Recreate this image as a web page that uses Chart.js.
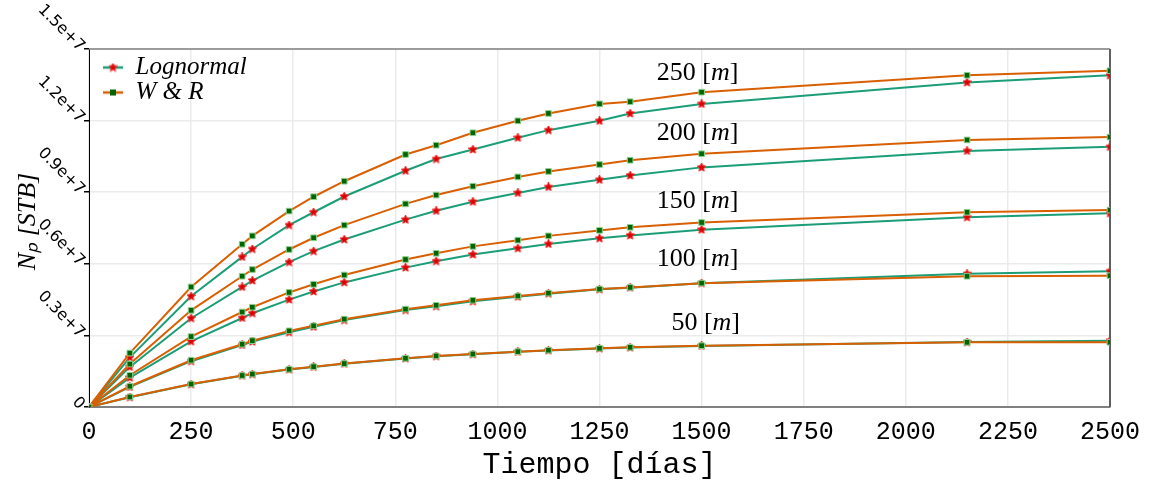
<!DOCTYPE html>
<html><head><meta charset="utf-8">
<script src="https://cdn.jsdelivr.net/npm/chart.js@4"></script>
<style>html,body{margin:0;padding:0;background:#fff}</style>
</head><body>
<canvas id="c" width="1151" height="483"></canvas>
<script>
// Time axis (days)
const days = [0,100,250,375,400,490,550,625,775,850,940,1050,1125,1250,1325,1500,2150,2500];

// Cumulative production Np, in millions of STB
const lognormal50  = [0,0.41,0.95,1.31,1.37,1.57,1.68,1.81,2.03,2.13,2.21,2.31,2.37,2.45,2.49,2.56,2.72,2.78];
const wr50         = [0,0.42,0.96,1.32,1.38,1.58,1.69,1.82,2.04,2.14,2.22,2.32,2.38,2.46,2.50,2.57,2.71,2.71];
const lognormal100 = [0,0.84,1.92,2.60,2.74,3.13,3.36,3.64,4.06,4.22,4.43,4.62,4.75,4.93,5.00,5.19,5.58,5.69];
const wr100        = [0,0.87,1.96,2.63,2.78,3.19,3.40,3.68,4.10,4.26,4.47,4.65,4.77,4.94,5.01,5.19,5.48,5.50];
const lognormal150 = [0,1.23,2.75,3.73,3.93,4.50,4.84,5.22,5.84,6.11,6.39,6.65,6.83,7.07,7.19,7.43,7.95,8.12];
const wr150        = [0,1.33,2.95,3.98,4.18,4.80,5.14,5.53,6.18,6.44,6.73,6.99,7.17,7.40,7.53,7.73,8.16,8.25];
const lognormal200 = [0,1.68,3.72,5.03,5.30,6.07,6.53,7.02,7.85,8.22,8.60,8.97,9.22,9.52,9.70,10.04,10.73,10.90];
const wr200        = [0,1.80,4.05,5.48,5.76,6.60,7.09,7.62,8.51,8.88,9.25,9.64,9.87,10.16,10.34,10.61,11.19,11.31];
const lognormal250 = [0,2.08,4.64,6.29,6.62,7.62,8.16,8.82,9.90,10.39,10.79,11.28,11.60,11.99,12.30,12.70,13.60,13.90];
const wr250        = [0,2.26,5.03,6.82,7.17,8.21,8.81,9.46,10.58,10.97,11.49,11.99,12.30,12.70,12.79,13.19,13.90,14.09];

const seriesNames = ['Lognormal', 'W & R'];
const yTickLabels = ['0','0.3e+7','0.6e+7','0.9e+7','1.2e+7','1.5e+7'];
const curveLabels = ['50','100','150','200','250'];
const curveLabelX = [1510,1490,1490,1490,1490];
const curveLabelY = [3.50,6.19,8.63,11.48,13.99];

const LN_LINE = '#1b9e77', WR_LINE = '#d95f02';
const LN_PT = '#dd0000', WR_PT = '#006400', WR_PT_EDGE = '#8fd08f';

function starImage(size) {
  const c = document.createElement('canvas');
  c.width = size; c.height = size;
  const g = c.getContext('2d');
  const cx = size / 2, cy = size / 2, R = size / 2, r = R * 0.5;
  g.beginPath();
  for (let k = 0; k < 10; k++) {
    const rad = k % 2 === 0 ? R : r;
    const ang = -Math.PI / 2 + k * Math.PI / 5;
    const px = cx + rad * Math.cos(ang), py = cy + rad * Math.sin(ang);
    if (k === 0) g.moveTo(px, py); else g.lineTo(px, py);
  }
  g.closePath();
  g.fillStyle = LN_PT; g.fill();
  g.strokeStyle = '#ee3333'; g.lineWidth = 1; g.stroke();
  return c;
}
const starMarker = starImage(9);

const groups = [
  [lognormal50, wr50], [lognormal100, wr100], [lognormal150, wr150],
  [lognormal200, wr200], [lognormal250, wr250]
];
const toXY = arr => days.map((d, i) => ({x: d, y: arr[i] * 1e6}));

const datasets = [];
groups.forEach(([ln, wr]) => {
  datasets.push({
    label: seriesNames[0], data: toXY(ln), order: 1,
    borderColor: LN_LINE, borderWidth: 2, tension: 0,
    pointStyle: starMarker, pointRadius: 5,
    pointBorderColor: LN_PT, pointBackgroundColor: LN_PT
  });
  datasets.push({
    label: seriesNames[1], data: toXY(wr), order: 0,
    borderColor: WR_LINE, borderWidth: 2, tension: 0,
    pointStyle: 'rect', pointRadius: 4, pointBorderWidth: 1,
    pointBorderColor: WR_PT_EDGE, pointBackgroundColor: WR_PT
  });
});

function legendIcon(lineColor, kind) {
  const c = document.createElement('canvas');
  c.width = 20; c.height = 12;
  const g = c.getContext('2d');
  g.strokeStyle = lineColor; g.lineWidth = 2.5;
  g.beginPath(); g.moveTo(0, 6); g.lineTo(20, 6); g.stroke();
  if (kind === 'star') {
    g.drawImage(starMarker, 5.5, 1.5);
  } else {
    g.fillStyle = WR_PT; g.fillRect(7, 3, 6, 6);
  }
  return c;
}
const icons = [legendIcon(LN_LINE, 'star'), legendIcon(WR_LINE, 'rect')];

const framePlugin = {
  id: 'frame',
  beforeDraw(chart) {
    const l = chart.legend, a = chart.chartArea;
    if (l) {
      const h = l.height, w = l.width;
      l.left = a.left + 14; l.right = l.left + w;
      l.top = a.top + 6; l.bottom = l.top + h;
    }
  },
  beforeDatasetsDraw(chart) {
    const {ctx, chartArea: a} = chart;
    ctx.save();
    ctx.strokeStyle = '#808080'; ctx.lineWidth = 1.5;
    ctx.beginPath(); ctx.moveTo(a.left, a.top); ctx.lineTo(a.right, a.top); ctx.stroke();
    ctx.strokeStyle = '#606060'; ctx.lineWidth = 2;
    ctx.beginPath(); ctx.moveTo(a.right, a.top); ctx.lineTo(a.right, a.bottom); ctx.stroke();
    ctx.restore();
  }
};

const curveLabelPlugin = {
  id: 'curveLabels',
  afterDatasetsDraw(chart) {
    const {ctx, scales: {x, y}} = chart;
    ctx.save();
    ctx.fillStyle = '#000';
    ctx.textBaseline = 'middle';
    curveLabels.forEach((t, i) => {
      const parts = [
        [t + ' [', '26px "Liberation Serif"'],
        ['m', 'italic 26px "Liberation Serif"'],
        [']', '26px "Liberation Serif"']
      ];
      let w = 0;
      parts.forEach(p => { ctx.font = p[1]; w += ctx.measureText(p[0]).width; });
      let px = x.getPixelForValue(curveLabelX[i]) - w / 2;
      const py = y.getPixelForValue(curveLabelY[i] * 1e6);
      parts.forEach(p => { ctx.font = p[1]; ctx.textAlign = 'left'; ctx.fillText(p[0], px, py); px += ctx.measureText(p[0]).width; });
    });
    ctx.restore();
  }
};

new Chart(document.getElementById('c'), {
  type: 'line',
  data: { datasets },
  plugins: [framePlugin, curveLabelPlugin],
  options: {
    responsive: false, animation: false,
    layout: { padding: { left: 6, right: 41, top: 49, bottom: 0 } },
    plugins: {
      tooltip: { enabled: false },
      legend: {
        position: 'chartArea', align: 'start',
        labels: {
          usePointStyle: true, pointStyleWidth: 20, boxHeight: 12, padding: 0,
          font: { family: 'Liberation Serif', size: 25, style: 'italic', lineHeight: 0.92 },
          color: '#000',
          generateLabels: () => seriesNames.map((n, i) => ({
            text: n, pointStyle: icons[i], fillStyle: 'transparent',
            strokeStyle: 'transparent', lineWidth: 0, hidden: false,
            datasetIndex: i, fontColor: '#000'
          }))
        }
      }
    },
    scales: {
      x: {
        type: 'linear', min: 0, max: 2500,
        ticks: { stepSize: 250, autoSkip: false, maxRotation: 0, color: '#000', padding: 10,
                 font: { family: 'Liberation Mono', size: 25 },
                 callback: v => String(v) },
        grid: { color: '#ebebeb', lineWidth: 1.5, drawTicks: false },
        border: { color: '#808080', width: 2 },
        title: { display: true, text: 'Tiempo [días]', color: '#000', padding: { top: 9, bottom: 0 },
                 font: { family: 'Liberation Mono', size: 30 } },
        afterFit(s) { s.height = 76; }
      },
      y: {
        min: 0, max: 1.5e7,
        ticks: { stepSize: 3e6, minRotation: -45, maxRotation: -45, color: '#000', padding: 2,
                 font: { family: 'DejaVu Sans', size: 16 },
                 callback: (v, i) => yTickLabels[i] },
        grid: { color: '#ebebeb', lineWidth: 1.5, tickColor: '#000', tickLength: 5 },
        border: { color: '#000', width: 1 },
        title: { display: true, text: '  Nₚ [STB]', color: '#000', padding: { top: 7, bottom: 0 },
                 font: { family: 'Liberation Serif', size: 26, style: 'italic' } },
        afterFit(s) { s.width = 83; }
      }
    }
  }
});
</script>
</body></html>
